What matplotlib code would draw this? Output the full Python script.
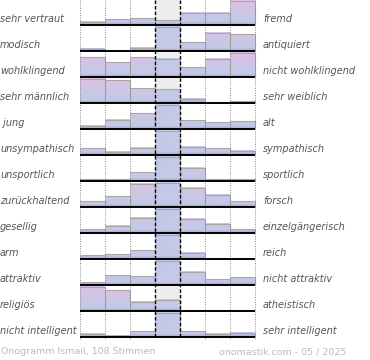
import numpy as np
import matplotlib
matplotlib.use("Agg")
import matplotlib.pyplot as plt
from matplotlib.colors import to_rgb

left_labels = ["sehr vertraut", "modisch", "wohlklingend", "sehr männlich", " jung",
               "unsympathisch", "unsportlich", "zurückhaltend", "gesellig", "arm",
               "attraktiv", "religiös", "nicht intelligent"]
right_labels = ["fremd", "antiquiert", "nicht wohlklingend", "sehr weiblich", "alt",
                "sympathisch", "sportlich", "forsch", "einzelgängerisch", "reich",
                "nicht attraktiv", "atheistisch", "sehr intelligent"]

# relative share per answer column (max = 100)
values = [
    [13, 23, 27, 20, 50, 50, 98],
    [9, 0, 13, 99, 36, 75, 68],
    [80, 60, 80, 75, 40, 75, 100],
    [98, 93, 61, 56, 18, 0, 7],
    [13, 38, 64, 100, 36, 27, 31],
    [27, 13, 30, 100, 34, 27, 18],
    [8, 8, 36, 100, 54, 8, 8],
    [24, 44, 95, 100, 79, 49, 23],
    [15, 30, 62, 100, 58, 38, 15],
    [16, 20, 36, 100, 26, 0, 0],
    [11, 40, 36, 100, 54, 23, 31],
    [99, 84, 38, 46, 0, 0, 0],
    [13, 5, 23, 100, 23, 13, 18],
]

footer_left = "Onogramm Ismail, 108 Stimmen"
footer_right = "onomastik.com - 05 / 2025"

W, H = 370, 360
fig = plt.figure(figsize=(W / 100, H / 100), dpi=100)
ax = fig.add_axes([0, 0, 1, 1])
ax.set_xlim(0, W)
ax.set_ylim(H, 0)
ax.axis("off")

x0, colw = 80, 25
ncol = 7
first_base, rowh, maxh = 25, 26, 24.5
center = 3

blue = np.array(to_rgb("#c4c9e7"))
pink = np.array(to_rgb("#dcc2e3"))
dark = np.array(to_rgb("#a59dcc"))


def grad_color(d, is_center):
    if d < 3:
        t = d / 3
        return dark * (1 - t) + blue * t
    if is_center:
        return blue
    t = np.clip((d - 6) / (22 - 6), 0, 1)
    return blue * (1 - t) + pink * t


for r, row in enumerate(values):
    base = first_base + r * rowh
    # grey background in center column
    ax.fill_between([x0 + center * colw, x0 + (center + 1) * colw], base - rowh + 1, base,
                    color="#eeeeee", lw=0, zorder=1)
    for c, v in enumerate(row):
        if v <= 0:
            continue
        h = v / 100 * maxh
        xl = x0 + c * colw
        n = max(int(h * 4), 2)
        ds = (np.arange(n) + 0.5) / n * h
        img = np.array([grad_color(d, c == center) for d in ds])[:, None, :]
        img = np.repeat(img, 2, axis=1)
        ax.imshow(img, extent=(xl, xl + colw, base, base - h), origin="lower",
                  aspect="auto", interpolation="bilinear", zorder=2)
        ax.plot([xl, xl + colw, xl + colw], [base - h, base - h, base],
                color="#a8a8a8", lw=0.8, zorder=3, solid_capstyle="butt")
    ax.plot([x0, x0 + ncol * colw], [base, base], color="black", lw=1.4, zorder=5,
            solid_capstyle="butt")
    ax.text(0, base - 6, left_labels[r], ha="left", va="center", fontsize=7.0,
            style="italic", color="#555555")
    ax.text(263, base - 6, right_labels[r], ha="left", va="center", fontsize=7.0,
            style="italic", color="#555555")

ybot = first_base + (len(values) - 1) * rowh + 2
for c in range(ncol + 1):
    xv = x0 + c * colw
    if c in (center, center + 1):
        ax.plot([xv, xv], [0, ybot], color="black", lw=1.0, ls=(0, (2.5, 1.5)), zorder=6)
    else:
        ax.plot([xv, xv], [0, ybot], color="#888888", lw=0.7, ls=(0, (1, 1.5)), zorder=4)

ax.text(1, 352, footer_left, ha="left", va="center", fontsize=6.8, color="#bbbbbb")
ax.text(346, 352, footer_right, ha="right", va="center", fontsize=6.8, color="#bbbbbb")

fig.savefig("out.png", dpi=100)
